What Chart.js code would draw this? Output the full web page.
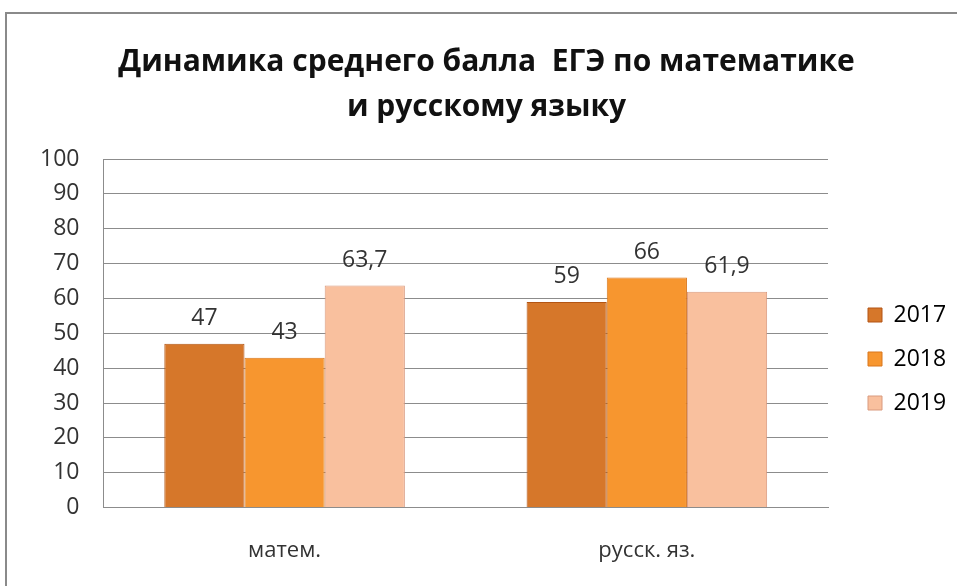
<!DOCTYPE html>
<html>
<head>
<meta charset="utf-8">
<script src="https://cdn.jsdelivr.net/npm/chart.js@4"></script>
<style>
  html, body { margin: 0; padding: 0; background: #fff; }
  #wrap { position: relative; width: 957px; height: 586px; }
</style>
</head>
<body>
<div id="wrap"><canvas id="egeChart" width="957" height="586"></canvas></div>
<script>
const subjects = ['матем.', 'русск. яз.'];
const years = ['2017', '2018', '2019'];
const scores2017 = [47, 59];
const scores2018 = [43, 66];
const scores2019 = [63.7, 61.9];
const yTicks = [0, 10, 20, 30, 40, 50, 60, 70, 80, 90, 100];

const FONT = "'Open Sans', 'DejaVu Sans', sans-serif";

// bar colours: [edge, middle]
const palette = [
  ['#b35514', '#d6772a'],
  ['#d9771c', '#f7962f'],
  ['#d99a7e', '#f9c09e']
];

// value labels above the bars, comma as decimal sign
const valueLabels = {
  id: 'valueLabels',
  afterDatasetsDraw(chart) {
    const ctx = chart.ctx;
    ctx.save();
    ctx.font = '23px ' + FONT;
    ctx.fillStyle = '#333';
    ctx.textAlign = 'center';
    ctx.textBaseline = 'middle';
    chart.data.datasets.forEach((ds, i) => {
      chart.getDatasetMeta(i).data.forEach((bar, j) => {
        const txt = String(ds.data[j]).replace('.', ',');
        ctx.fillText(txt, bar.x, bar.y - 25);
      });
    });
    ctx.restore();
  }
};

// grey frame round the whole chart, legend made wider and moved
const frame = {
  id: 'frame',
  afterInit(chart) {
    const lg = chart.legend;
    const fit = lg.fit;
    lg.fit = function () {
      fit.call(this);
      this.width = 129;
    };
  },
  afterLayout(chart) {
    const lg = chart.legend;
    lg.left += 19; lg.right += 19;
    lg.top += 66; lg.bottom += 66;
  },
  beforeDraw(chart) {
    const ctx = chart.ctx;
    ctx.save();
    ctx.strokeStyle = '#8a8a8a';
    ctx.lineWidth = 2;
    ctx.strokeRect(6, 13, 960, 600);
    ctx.restore();
  }
};

new Chart(document.getElementById('egeChart'), {
  type: 'bar',
  data: {
    labels: subjects,
    datasets: years.map((y, i) => ({
      label: y,
      data: [scores2017, scores2018, scores2019][i],
      backgroundColor: palette[i][1],
      borderColor: palette[i][0],
      borderWidth: 1
    }))
  },
  options: {
    responsive: false,
    animation: false,
    categoryPercentage: 0.664,
    barPercentage: 1,
    layout: { padding: { left: 16, right: 0, top: 0, bottom: 0 } },
    scales: {
      x: {
        grid: { display: false },
        border: { color: '#8c8c8c' },
        ticks: { color: '#333', font: { size: 22, family: FONT }, padding: 22 }
      },
      y: {
        min: 0,
        max: 100,
        afterBuildTicks: axis => { axis.ticks = yTicks.map(v => ({ value: v })); },
        grid: { color: '#8c8c8c', drawTicks: false },
        border: { color: '#8c8c8c' },
        ticks: { color: '#333', font: { size: 23, family: FONT }, padding: 24 }
      }
    },
    plugins: {
      title: {
        display: true,
        text: ['Динамика среднего балла  ЕГЭ по математике', 'и русскому языку'],
        color: '#111',
        font: { size: 30, weight: 'bold', family: FONT, lineHeight: 1.5 },
        padding: { top: 40, bottom: 29 }
      },
      legend: {
        position: 'right',
        labels: {
          color: '#333',
          font: { size: 23, family: FONT },
          boxWidth: 14,
          boxHeight: 14,
          padding: 21,
          generateLabels: chart => chart.data.datasets.map((ds, i) => ({
            text: ds.label,
            fillStyle: palette[i][1],
            strokeStyle: palette[i][0],
            lineWidth: 1,
            datasetIndex: i
          }))
        }
      },
      tooltip: { enabled: false }
    }
  },
  plugins: [valueLabels, frame]
});
</script>
</body>
</html>
